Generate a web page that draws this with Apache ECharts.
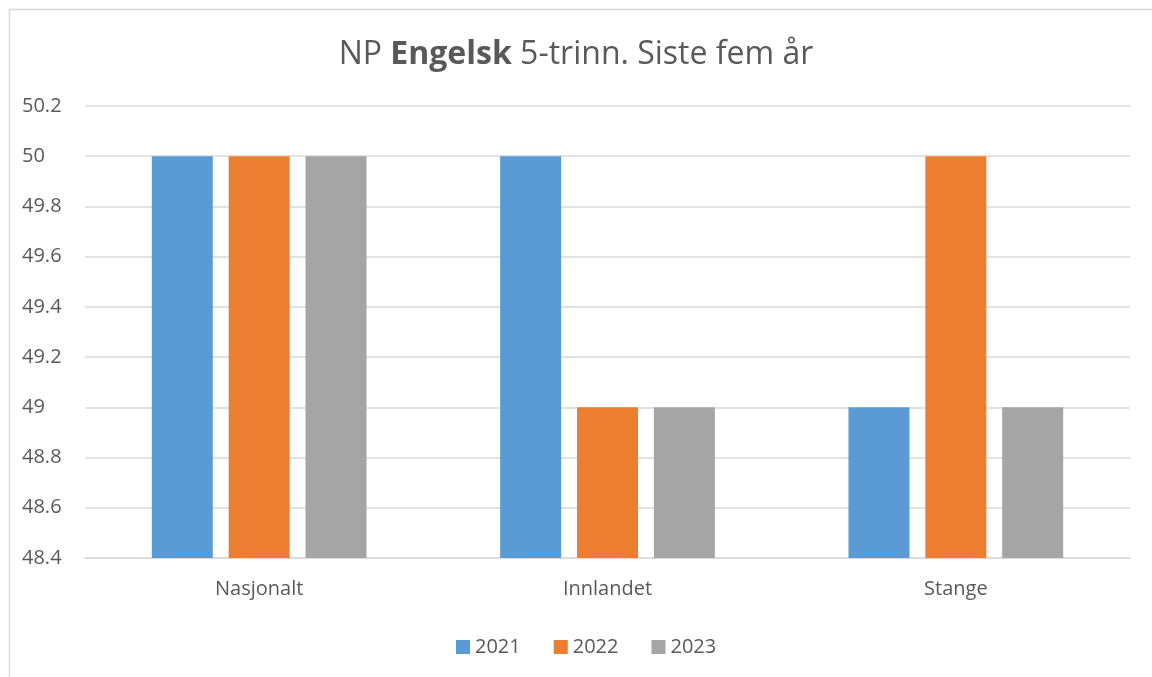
<!DOCTYPE html>
<html>
<head>
<meta charset="utf-8">
<script src="https://cdn.jsdelivr.net/npm/echarts@6/dist/echarts.min.js"></script>
<style>
html,body{margin:0;padding:0;background:#fff;}
#chart{width:1152px;height:677px;}
</style>
</head>
<body>
<div id="chart"></div>
<script>
const categories = ['Nasjonalt', 'Innlandet', 'Stange'];
const seriesNames = ['2021', '2022', '2023'];
const values2021 = [50, 50, 49];
const values2022 = [50, 49, 50];
const values2023 = [50, 49, 49];
const colors = ['#5b9bd5', '#ed7d31', '#a5a5a5'];
const yMin = 48.4, yMax = 50.2, yStep = 0.2;

const font = '"Open Sans", "Liberation Sans", sans-serif';
const chart = echarts.init(document.getElementById('chart'), null, {renderer: 'canvas'});
const allValues = [values2021, values2022, values2023];
chart.setOption({
  animation: false,
  backgroundColor: '#fff',
  graphic: [{
    type: 'rect', left: 7, top: 7,
    shape: {width: 1160, height: 690},
    style: {fill: 'none', stroke: '#d9d9d9', lineWidth: 1.5},
    silent: true
  }],
  title: {
    text: 'NP {b|Engelsk} 5-trinn. Siste fem år',
    left: 'center', top: 34,
    textStyle: {
      fontFamily: font, fontSize: 32, fontWeight: 'normal', color: '#595959',
      rich: {b: {fontFamily: font, fontSize: 32, fontWeight: 'bold', color: '#595959'}}
    }
  },
  legend: {
    data: seriesNames, bottom: 15, left: 451,
    itemWidth: 14, itemHeight: 14, itemGap: 33, icon: 'rect',
    textStyle: {fontFamily: font, fontSize: 20, color: '#595959'}
  },
  grid: {left: 85, right: 22, top: 106, bottom: 119, containLabel: false},
  xAxis: {
    type: 'category', data: categories,
    axisLine: {lineStyle: {color: '#d9d9d9', width: 1.5}},
    axisTick: {show: false},
    axisLabel: {fontFamily: font, fontSize: 20, color: '#595959', margin: 21}
  },
  yAxis: {
    type: 'value', min: yMin, max: yMax, interval: yStep,
    axisLine: {show: false}, axisTick: {show: false},
    splitLine: {lineStyle: {color: '#d9d9d9', width: 1.5}},
    axisLabel: {fontFamily: font, fontSize: 20, color: '#595959', margin: 63, align: 'left',
      formatter: v => String(+v.toFixed(1))}
  },
  series: seriesNames.map((n, i) => ({
    name: n, type: 'bar', data: allValues[i],
    barWidth: 61, barGap: '26%',
    itemStyle: {color: colors[i]}
  }))
});
</script>
</body>
</html>
